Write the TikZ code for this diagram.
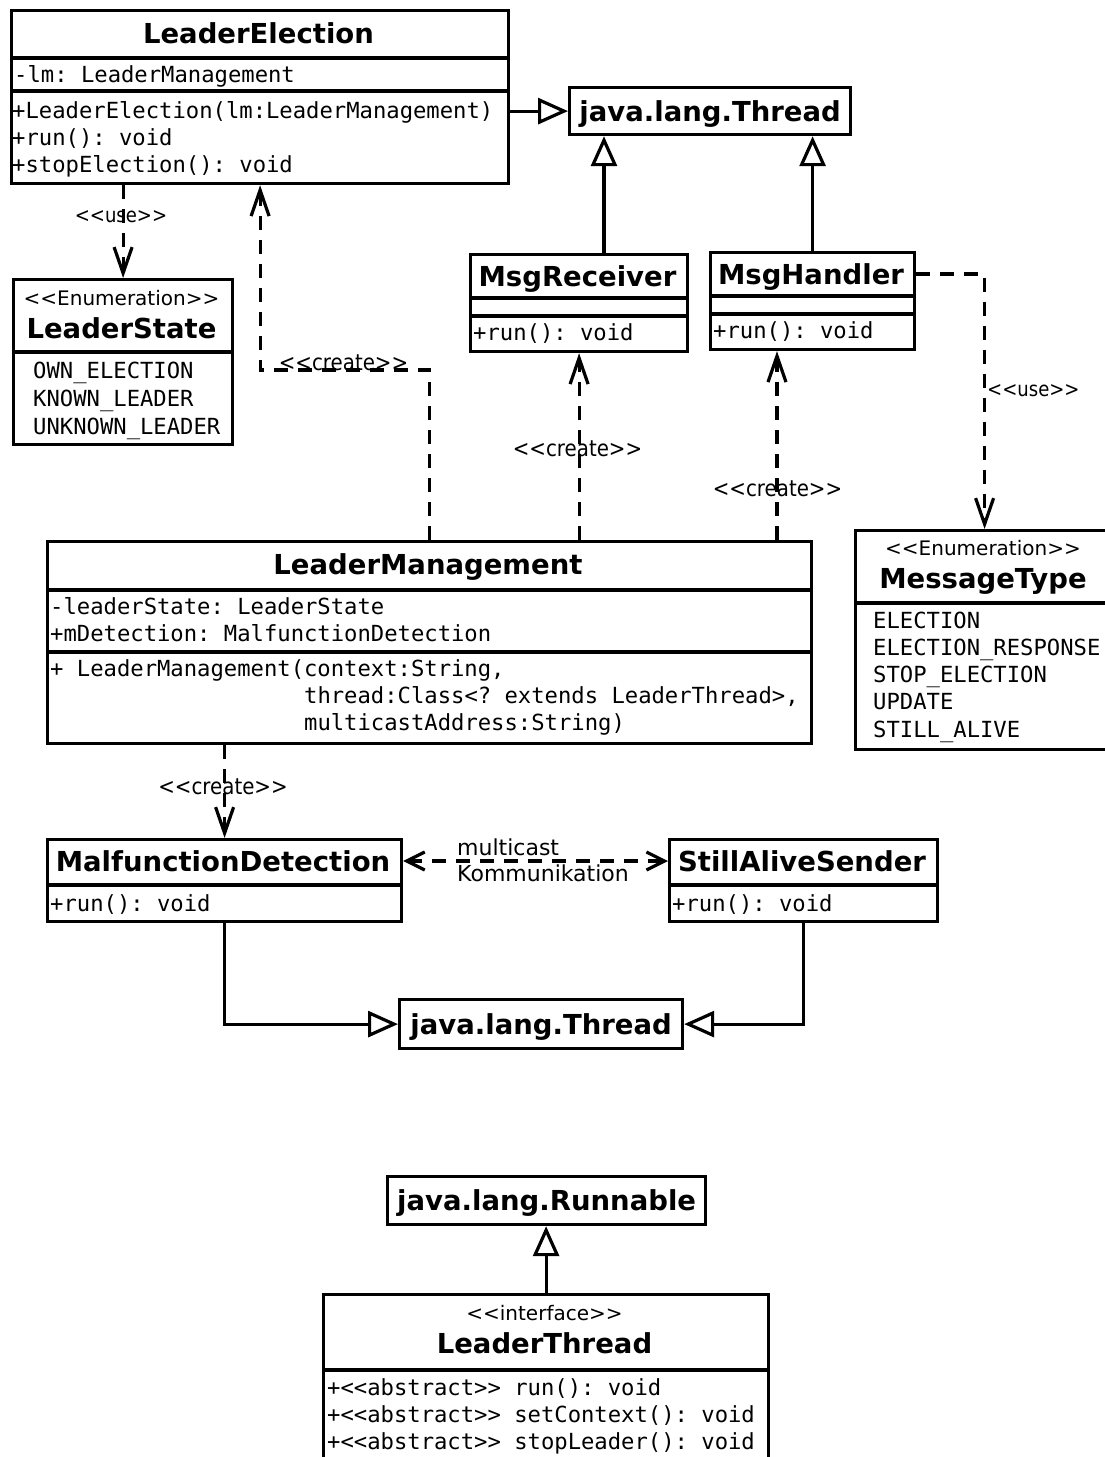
\documentclass[tikz,border=0pt]{standalone}
\usepackage{fontspec}
\setmainfont{DejaVu Sans}[Ligatures=TeXOff]
\newfontfamily\umlmono{DejaVu Sans Mono}[Ligatures=TeXOff]
\newfontfamily\umlcond{DejaVu Sans}[Ligatures=TeXOff, FakeStretch=0.88]
\usetikzlibrary{arrows.meta}
\frenchspacing

% text styles of the class diagram
\newcommand\umlname{\bfseries\fontsize{27.5pt}{32pt}\selectfont}
\newcommand\umlstereo{\fontsize{20pt}{24pt}\selectfont}
\newcommand\umlmember{\umlmono\fontsize{22.2pt}{27pt}\selectfont}
\newcommand\umllabel{\umlcond\fontsize{22.5pt}{26pt}\selectfont}
\newcommand\umluse{\umlcond\fontsize{20.5pt}{24pt}\selectfont}
\newcommand\umlcomm{\fontsize{22pt}{26pt}\selectfont}

\tikzset{
  classbox/.style={draw, line width=3.2pt, inner sep=0pt, anchor=north west},
  clsname/.style={font=\umlname, inner sep=0pt, text height=20pt, text depth=0pt},
  stereo/.style={font=\umlstereo, inner sep=0pt, text height=14.6pt, text depth=0pt},
  member/.style={font=\umlmember, inner sep=0pt, anchor=west, text height=16pt, text depth=0pt},
  lbl/.style={font=\umllabel, inner sep=0pt, text height=16pt, text depth=0pt},
  uselbl/.style={font=\umluse, inner sep=0pt, text height=15pt, text depth=0pt},
  divider/.style={line width=3.2pt},
  inherit/.style={line width=3.2pt, -{Triangle[open, length=30pt, width=26pt]}},
  depend/.style={line width=3.2pt, dash pattern=on 14pt off 10pt,
                 -{Straight Barb[length=26pt, width=18pt]}},
  dependboth/.style={line width=3.2pt, dash pattern=on 14pt off 10pt,
                 {Straight Barb[length=18pt, width=18pt]}-{Straight Barb[length=18pt, width=18pt]}},
}

\begin{document}
\begin{tikzpicture}[x=1pt, y=-1pt]
\useasboundingbox (0,0) rectangle (1104,1457);

% ---------- LeaderElection ----------
\node[classbox, minimum width=497pt, minimum height=173pt] (le) at (10,9) {};
\draw[divider] (10,58) -- (507,58);
\draw[divider] (10,91) -- (507,91);
\node[clsname] (le-n) at (258.5,33) {LeaderElection};
\node[member] (le-a1) at (14,74) {-lm: LeaderManagement};
\node[member] (le-o1) at (12,110) {+LeaderElection(lm:LeaderManagement)};
\node[member] (le-o2) at (12,137) {+run(): void};
\node[member] (le-o3) at (12,164) {+stopElection(): void};

% ---------- java.lang.Thread (top) ----------
\node[classbox, clsname, minimum width=281pt, minimum height=47pt] (thr1) at (568,86) {java.lang.Thread};

% ---------- MsgReceiver ----------
\node[classbox, minimum width=217pt, minimum height=97pt] (mr) at (469,253) {};
\draw[divider] (469,298) -- (686,298);
\draw[divider] (469,316) -- (686,316);
\node[clsname] (mr-n) at (577.5,276) {MsgReceiver};
\node[member] (mr-o) at (473,332) {+run(): void};

% ---------- MsgHandler ----------
\node[classbox, minimum width=204pt, minimum height=97pt] (mh) at (709,251) {};
\draw[divider] (709,296) -- (913,296);
\draw[divider] (709,314) -- (913,314);
\node[clsname] (mh-n) at (811,274) {MsgHandler};
\node[member] (mh-o) at (713,330) {+run(): void};

% ---------- LeaderState ----------
\node[classbox, minimum width=219pt, minimum height=165pt] (ls) at (12,278) {};
\draw[divider] (12,352) -- (231,352);
\node[stereo] (ls-s) at (121.5,298) {<<Enumeration>>};
\node[clsname] (ls-n) at (121.5,328) {LeaderState};
\node[member] (ls-i1) at (33,370) {OWN\_ELECTION};
\node[member] (ls-i2) at (33,398) {KNOWN\_LEADER};
\node[member] (ls-i3) at (33,426) {UNKNOWN\_LEADER};

% ---------- LeaderManagement ----------
\node[classbox, minimum width=764pt, minimum height=202pt] (lm) at (46,540) {};
\draw[divider] (46,590) -- (810,590);
\draw[divider] (46,652) -- (810,652);
\node[clsname] (lm-n) at (428,564) {LeaderManagement};
\node[member] (lm-a1) at (50,606) {-leaderState: LeaderState};
\node[member] (lm-a2) at (50,633) {+mDetection: MalfunctionDetection};
\node[member] (lm-o1) at (50,668) {+ LeaderManagement(context:String,};
\node[member] (lm-o2) at (50,695) {\phantom{+ LeaderManagement(}thread:Class<? extends LeaderThread>,};
\node[member] (lm-o3) at (50,722) {\phantom{+ LeaderManagement(}multicastAddress:String)};

% ---------- MessageType ----------
\node[classbox, minimum width=258pt, minimum height=219pt] (mt) at (854,529) {};
\draw[divider] (854,603) -- (1112,603);
\node[stereo] (mt-s) at (983,548) {<<Enumeration>>};
\node[clsname] (mt-n) at (983,578) {MessageType};
\node[member] (mt-i1) at (873,620) {ELECTION};
\node[member] (mt-i2) at (873,647) {ELECTION\_RESPONSE};
\node[member] (mt-i3) at (873,674) {STOP\_ELECTION};
\node[member] (mt-i4) at (873,701) {UPDATE};
\node[member] (mt-i5) at (873,729) {STILL\_ALIVE};

% ---------- MalfunctionDetection ----------
\node[classbox, minimum width=354pt, minimum height=82pt] (md) at (46,838) {};
\draw[divider] (46,885) -- (400,885);
\node[clsname] (md-n) at (223,861) {MalfunctionDetection};
\node[member] (md-o) at (50,903) {+run(): void};

% ---------- StillAliveSender ----------
\node[classbox, minimum width=268pt, minimum height=82pt] (sas) at (668,838) {};
\draw[divider] (668,885) -- (936,885);
\node[clsname] (sas-n) at (802,861) {StillAliveSender};
\node[member] (sas-o) at (672,903) {+run(): void};

% ---------- java.lang.Thread (bottom) ----------
\node[classbox, clsname, minimum width=283pt, minimum height=49pt] (thr2) at (398,998) {java.lang.Thread};

% ---------- java.lang.Runnable ----------
\node[classbox, clsname, minimum width=318pt, minimum height=48pt] (rnb) at (386,1175) {java.lang.Runnable};

% ---------- LeaderThread ----------
\node[classbox, minimum width=445pt, minimum height=172pt] (lt) at (322,1293) {};
\draw[divider] (322,1370) -- (767,1370);
\node[stereo] (lt-s) at (544.5,1313) {<<interface>>};
\node[clsname] (lt-n) at (544.5,1343) {LeaderThread};
\node[member] (lt-o1) at (327,1387) {+<<abstract>> run(): void};
\node[member] (lt-o2) at (327,1414) {+<<abstract>> setContext(): void};
\node[member] (lt-o3) at (327,1441) {+<<abstract>> stopLeader(): void};

% ---------- generalisations ----------
\draw[inherit] (thr1.west -| le.east) -- (thr1.west);
\coordinate (mrtop) at ([xshift=135pt]mr.north west);
\draw[inherit] (mrtop) -- (mrtop |- thr1.south);
\draw[inherit] (mh.north) -- (mh.north |- thr1.south);
\draw[inherit] (md.south) |- (thr2.west);
\draw[inherit] (sas.south) |- (thr2.east);
\draw[inherit] (lt.north) -- (lt.north |- rnb.south);

% ---------- dependencies ----------
\draw[depend] (ls.north |- le.south) -- (ls.north);
\node[uselbl] (use1) at (121,215) {<<use>>};

\draw[depend] (lm.north) -- ++(0,-170) -| (le.south);
\node[lbl] (cr1) at (343.5,362) {<<create>>};

\draw[depend] (mr.south |- lm.north) -- (mr.south);
\node[lbl] (cr2) at (577.5,448) {<<create>>};

\coordinate (mhin) at ([xshift=68pt]mh.south west);
\draw[depend] (mhin |- lm.north) -- (mhin);
\node[lbl] (cr3) at (777.5,488) {<<create>>};

\draw[depend] (mh.east |- mh-n) -| (mt.north);
\node[uselbl, anchor=west] (use2) at (987,389) {<<use>>};

\draw[depend] (md.north |- lm.south) -- (md.north);
\node[lbl] (cr4) at (223,786) {<<create>>};

\draw[dependboth] (md.east |- md-n) -- (sas.west |- sas-n);
\node[font=\umlcomm, inner sep=0pt, anchor=west, align=left] (comm) at (457,860) {multicast\\Kommunikation};

\end{tikzpicture}
\end{document}
